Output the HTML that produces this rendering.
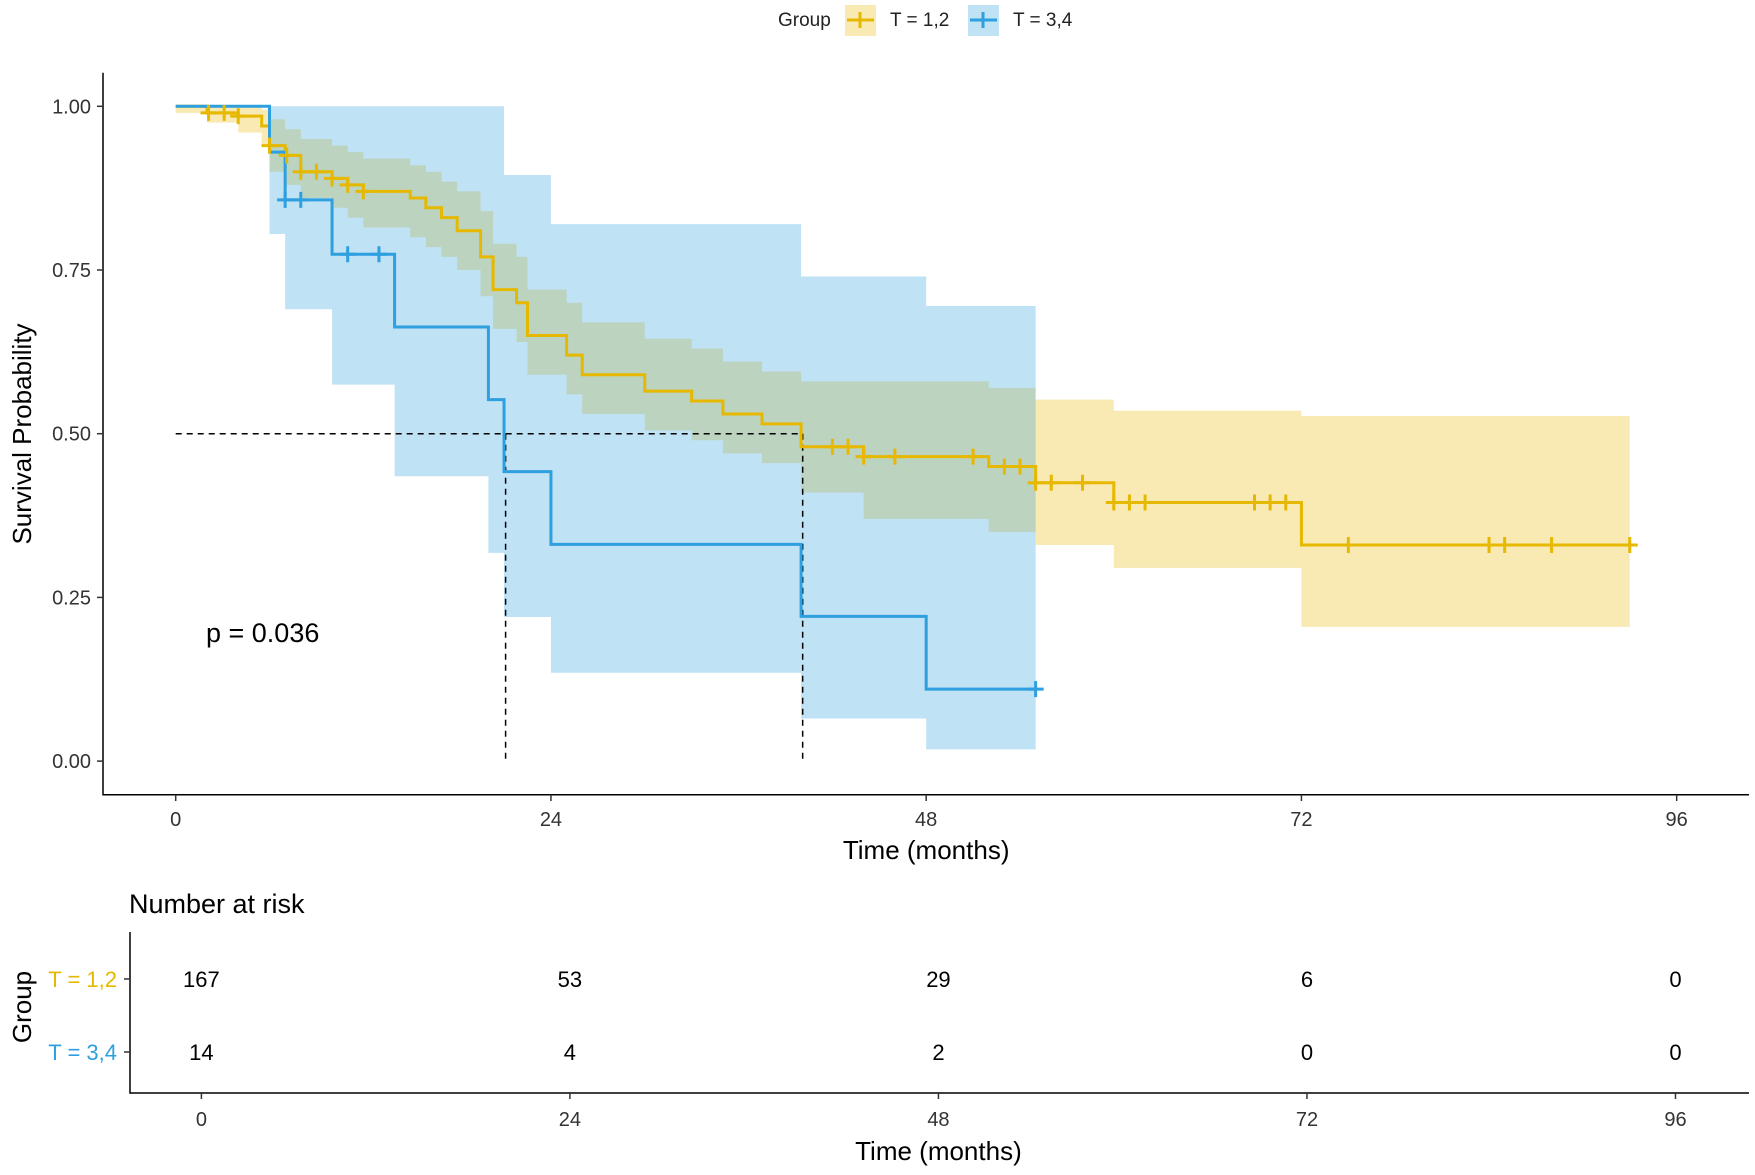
<!DOCTYPE html>
<html><head><meta charset="utf-8">
<style>
html,body{margin:0;padding:0;background:#fff;}
svg{display:block;font-family:"Liberation Sans",Arial,sans-serif;}
</style></head>
<body>
<svg id="chart" width="1755" height="1175" viewBox="0 0 1755 1175" xmlns="http://www.w3.org/2000/svg">
  <g>
    <text x="778" y="26" font-size="19" fill="#222">Group</text>
    <g>
      <rect x="845" y="5" width="31" height="31" fill="#E7B800" fill-opacity="0.3"/>
      <line x1="847" y1="20" x2="874" y2="20" stroke="#E7B800" stroke-width="3"/>
      <line x1="860" y1="12" x2="860" y2="28" stroke="#E7B800" stroke-width="3"/>
      <text x="890" y="26" font-size="19" fill="#222">T = 1,2</text>
    </g>
    <g>
      <rect x="968" y="5" width="31" height="31" fill="#2E9FDF" fill-opacity="0.3"/>
      <line x1="970" y1="20" x2="997" y2="20" stroke="#2E9FDF" stroke-width="3"/>
      <line x1="983" y1="12" x2="983" y2="28" stroke="#2E9FDF" stroke-width="3"/>
      <text x="1013" y="26" font-size="19" fill="#222">T = 3,4</text>
    </g>
  </g>
  <g id="plot"></g>
  <g id="risk"></g>
</svg>
<script>
// ---- data ----
const yellowTimes = [0,2,4,5.5,6,7,8,10,11,12,15,16,17,18,19.5,20.3,21.8,22.5,25,26,30,33,35,37.5,40,44,52,55,60,72];
const yellowSurv  = [1,0.99,0.985,0.97,0.94,0.925,0.90,0.89,0.88,0.87,0.86,0.845,0.83,0.81,0.77,0.72,0.70,0.65,0.62,0.59,0.565,0.55,0.53,0.515,0.48,0.465,0.45,0.425,0.395,0.33];
const yellowUpper = [1,1,1,0.995,0.98,0.965,0.95,0.94,0.93,0.92,0.91,0.90,0.885,0.87,0.84,0.79,0.77,0.72,0.70,0.67,0.645,0.63,0.61,0.595,0.58,0.58,0.57,0.552,0.535,0.527];
const yellowLower = [0.99,0.975,0.96,0.94,0.90,0.88,0.86,0.845,0.83,0.815,0.80,0.785,0.77,0.75,0.71,0.66,0.64,0.59,0.56,0.53,0.505,0.49,0.47,0.455,0.41,0.37,0.35,0.33,0.295,0.205];
const yellowEnd = 93;
const yellowCensor = [2.1,3.1,4.0,6.0,7.1,8.0,9.0,10.0,11.0,12.0,42,43,44,46,51,53,54,55,56,58,60,61,62,69,70,71,75,84,85,88,93];

const blueTimes = [0,6,7,10,14,20,21,24,40,48];
const blueSurv  = [1,0.93,0.857,0.774,0.663,0.552,0.442,0.331,0.221,0.110];
const blueUpper = [1,1,1,1,1,1,0.895,0.82,0.74,0.695];
const blueLower = [1,0.805,0.69,0.575,0.435,0.318,0.22,0.135,0.065,0.018];
const blueEnd = 55;
const blueCensor = [7,8,11,13,55];

const medians = [21.1,40.1];
const xTicks = [0,24,48,72,96];
const yTicks = [0,0.25,0.5,0.75,1];
const yTickLabels = ["0.00","0.25","0.50","0.75","1.00"];
const riskGroups = ["T = 1,2","T = 3,4"];
const riskT12 = [167,53,29,6,0];
const riskT34 = [14,4,2,0,0];

// ---- scales ----
const X = t => 175.7 + t*15.635;
const Y = s => 761.1 - s*654.8;
const XR = t => 201.4 + t*15.355;
const NS = "http://www.w3.org/2000/svg";
function mk(parent, tag, attrs, text){
  const e = document.createElementNS(NS, tag);
  for (const k in attrs) e.setAttribute(k, attrs[k]);
  if (text !== undefined) e.textContent = text;
  parent.appendChild(e);
  return e;
}
const plot = document.getElementById('plot');
const risk = document.getElementById('risk');

function stepPath(times, vals, end){
  let d = `M${X(times[0])},${Y(vals[0])}`;
  for (let i=1;i<times.length;i++){ d += `H${X(times[i])}V${Y(vals[i])}`; }
  d += `H${X(end)}`;
  return d;
}
function bandPath(times, up, lo, end){
  let d = `M${X(times[0])},${Y(up[0])}`;
  for (let i=1;i<times.length;i++){ d += `H${X(times[i])}V${Y(up[i])}`; }
  d += `H${X(end)}V${Y(lo[lo.length-1])}`;
  for (let i=times.length-1;i>=1;i--){ d += `H${X(times[i])}V${Y(lo[i-1])}`; }
  d += `H${X(times[0])}Z`;
  return d;
}
function survAt(times, vals, t){
  let v = vals[0];
  for (let i=0;i<times.length;i++) if (times[i] <= t) v = vals[i];
  return v;
}

// bands
let e;
e = mk(plot,'path',{d:bandPath(yellowTimes,yellowUpper,yellowLower,yellowEnd),fill:'#E7B800','fill-opacity':0.3});


e = mk(plot,'path',{d:bandPath(blueTimes,blueUpper,blueLower,blueEnd),fill:'#2E9FDF','fill-opacity':0.3});



// median lines
e = mk(plot,'line',{x1:X(0),y1:Y(0.5),x2:X(medians[1]),y2:Y(0.5),stroke:'#000','stroke-width':1.5,'stroke-dasharray':'6,5'});


medians.forEach(m=>{
  const l = mk(plot,'line',{x1:X(m),y1:Y(0.5),x2:X(m),y2:Y(0),stroke:'#000','stroke-width':1.5,'stroke-dasharray':'6,5'});
  
  
});

// curves
e = mk(plot,'path',{d:stepPath(yellowTimes,yellowSurv,yellowEnd),fill:'none',stroke:'#E7B800','stroke-width':3});


e = mk(plot,'path',{d:stepPath(blueTimes,blueSurv,blueEnd),fill:'none',stroke:'#2E9FDF','stroke-width':3});



function censor(times, vals, list, color, name){
  list.forEach(t=>{
    const y = Y(survAt(times, vals, t)), x = X(t);
    const g = mk(plot,'path',{d:`M${x-8},${y}H${x+8}M${x},${y-8}V${y+8}`,stroke:color,'stroke-width':3});
    
    
  });
}
censor(yellowTimes,yellowSurv,yellowCensor,'#E7B800','censor-mark-t12');
censor(blueTimes,blueSurv,blueCensor,'#2E9FDF','censor-mark-t34');

// axes
e = mk(plot,'path',{d:'M103,72.7V794.7H1749',fill:'none',stroke:'#000','stroke-width':1.5});


yTicks.forEach((v,i)=>{
  mk(plot,'line',{x1:97,y1:Y(v),x2:103,y2:Y(v),stroke:'#333','stroke-width':1.5});
  const t = mk(plot,'text',{x:91,y:Y(v)+7,'text-anchor':'end','font-size':20,fill:'#333'},yTickLabels[i]);
  
  
});
xTicks.forEach(v=>{
  mk(plot,'line',{x1:X(v),y1:794.7,x2:X(v),y2:801,stroke:'#333','stroke-width':1.5});
  const t = mk(plot,'text',{x:X(v),y:826,'text-anchor':'middle','font-size':20,fill:'#333'},v);
  
  
});
e = mk(plot,'text',{x:X(48),y:859,'text-anchor':'middle','font-size':26,fill:'#000'},'Time (months)');


e = mk(plot,'text',{x:0,y:0,transform:'translate(31,434) rotate(-90)','text-anchor':'middle','font-size':26,fill:'#000'},'Survival Probability');


e = mk(plot,'text',{x:206,y:642,'font-size':27,fill:'#000'},'p = 0.036');



// risk table
e = mk(risk,'text',{x:129,y:913,'font-size':27,fill:'#000'},'Number at risk');


e = mk(risk,'path',{d:'M130,932V1093H1749',fill:'none',stroke:'#000','stroke-width':1.5});


const rowY = [979,1052];
const rowColor = ['#E7B800','#2E9FDF'];
const rowData = [riskT12, riskT34];
riskGroups.forEach((g,i)=>{
  mk(risk,'line',{x1:124,y1:rowY[i],x2:130,y2:rowY[i],stroke:'#333','stroke-width':1.5});
  const t = mk(risk,'text',{x:117,y:rowY[i]+8,'text-anchor':'end','font-size':22,fill:rowColor[i]},g);
  
  
  rowData[i].forEach((n,j)=>{
    const c = mk(risk,'text',{x:XR(xTicks[j]),y:rowY[i]+8,'text-anchor':'middle','font-size':22,fill:'#000'},n);
    
    
  });
});
xTicks.forEach(v=>{
  mk(risk,'line',{x1:XR(v),y1:1093,x2:XR(v),y2:1099,stroke:'#333','stroke-width':1.5});
  const t = mk(risk,'text',{x:XR(v),y:1126,'text-anchor':'middle','font-size':20,fill:'#333'},v);
  
  
});
e = mk(risk,'text',{x:XR(48),y:1160,'text-anchor':'middle','font-size':26,fill:'#000'},'Time (months)');


e = mk(risk,'text',{x:0,y:0,transform:'translate(31,1007) rotate(-90)','text-anchor':'middle','font-size':26,fill:'#000'},'Group');


</script>
</body></html>
